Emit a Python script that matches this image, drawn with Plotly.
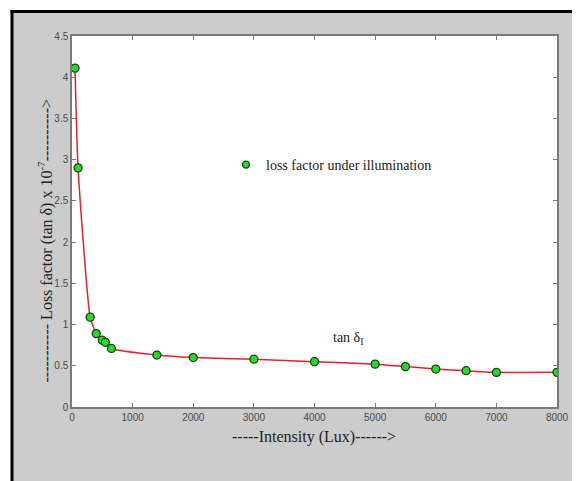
import plotly.graph_objects as go

intensity = [50, 100, 300, 400, 500, 550, 650, 1400, 2000, 3000, 4000, 5000, 5500, 6000, 6500, 7000, 8000]
loss_factor = [4.11, 2.90, 1.09, 0.89, 0.81, 0.785, 0.71, 0.63, 0.60, 0.58, 0.55, 0.52, 0.49, 0.46, 0.44, 0.42, 0.42]
x_ticks = [0, 1000, 2000, 3000, 4000, 5000, 6000, 7000, 8000]
y_ticks = [0, 0.5, 1, 1.5, 2, 2.5, 3, 3.5, 4, 4.5]

# page body has an 8px margin: figure occupies screen pixels 8..580 / 8..481
OFF = 8
SW, SH = 580, 481
W, H = SW - OFF, SH - OFF
L, R, T, B = 72, 557, 36, 407   # plot area in screen pixels
PW, PH = R - L, B - T

def px(x):
    return (x - L) / PW

def py(y):
    return (B - y) / PH

SERIF = "Liberation Serif, Times New Roman, serif"
SANS = "Liberation Sans, Arial, sans-serif"

fig = go.Figure()
fig.add_trace(go.Scatter(
    x=intensity, y=loss_factor, mode="lines+markers",
    line=dict(color="#e8202a", width=1.5, shape="spline", smoothing=0.5),
    marker=dict(color="#22dd22", size=8, line=dict(color="#1a3a1a", width=1.3)),
    showlegend=False,
))
fig.add_trace(go.Scatter(
    x=[None], y=[None], mode="markers", name="loss factor under illumination",
    marker=dict(color="#22dd22", size=7, line=dict(color="#1a3a1a", width=1.3)),
    showlegend=True,
))

axis_common = dict(
    showline=True, linecolor="#7a7a7a", linewidth=1.5, mirror="ticks",
    ticks="inside", ticklen=4, tickcolor="#7a7a7a", tickwidth=1,
    showgrid=False, zeroline=False,
    tickfont=dict(family=SANS, size=10, color="#4a4a4a"),
)
fig.update_xaxes(range=[0, 8000], tickvals=x_ticks, **axis_common)
fig.update_yaxes(range=[0, 4.5], tickvals=y_ticks, **axis_common)

shapes = [
    dict(type="rect", xref="paper", yref="paper", x0=px(-5), x1=px(11), y0=py(-5), y1=py(SH + 5),
         fillcolor="white", line=dict(width=0), layer="below"),
    dict(type="rect", xref="paper", yref="paper", x0=px(-5), x1=px(SW + 5), y0=py(-5), y1=py(10),
         fillcolor="white", line=dict(width=0), layer="below"),
    dict(type="line", xref="paper", yref="paper", x0=px(12), x1=px(12), y0=py(10), y1=py(SH + 5),
         line=dict(color="black", width=3)),
    dict(type="line", xref="paper", yref="paper", x0=px(10.5), x1=px(SW + 5), y0=py(11.5), y1=py(11.5),
         line=dict(color="black", width=3)),
]

annotations = [
    dict(text="tan δ<sub>I</sub>", x=4550, y=0.83, xref="x", yref="y", showarrow=False,
         font=dict(family=SERIF, size=14, color="#222222")),
    dict(text="-----Intensity (Lux)------>", x=px(314), y=py(448), xref="paper", yref="paper",
         showarrow=False, font=dict(family=SERIF, size=16, color="#222222")),
    dict(text="----------- Loss factor (tan δ) x 10<sup>-7</sup>---------->", x=px(33), y=py(241),
         xref="paper", yref="paper", showarrow=False, textangle=-90,
         font=dict(family=SERIF, size=16, color="#222222")),
]

fig.update_layout(
    width=W, height=H,
    margin=dict(l=L - OFF, r=SW - R, t=T - OFF, b=SH - B),
    paper_bgcolor="#cccccc", plot_bgcolor="white",
    shapes=shapes, annotations=annotations,
    legend=dict(x=px(226), y=py(149), xanchor="left", yanchor="top",
                bgcolor="rgba(0,0,0,0)", itemwidth=30,
                font=dict(family=SERIF, size=14, color="#222222")),
)

fig.write_html("out.html")
